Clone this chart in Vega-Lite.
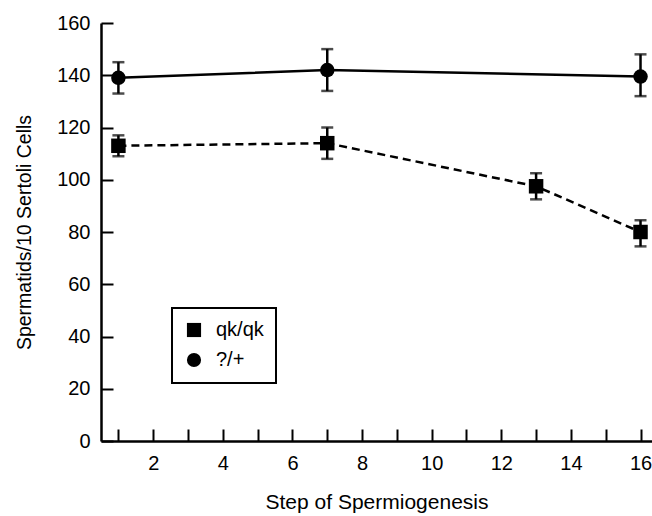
{
  "$schema": "https://vega.github.io/schema/vega-lite/v6.json",
  "width": 551,
  "height": 418,
  "autosize": "none",
  "padding": {"left": 101, "top": 23, "right": 0, "bottom": 75},
  "background": "white",
  "config": {
    "view": {"stroke": null},
    "font": "Liberation Sans",
    "legend": {"strokeColor": "black", "strokeWidth": 2},
    "axis": {
      "domainColor": "black", "domainWidth": 2.5, "tickColor": "black", "tickWidth": 2,
      "labelColor": "black", "titleColor": "black", "labelFont": "Liberation Sans", "titleFont": "Liberation Sans",
      "labelFontSize": 20, "titleFontSize": 20, "titleFontWeight": "normal", "grid": false
    }
  },
  "data": {"values": [
    {"step": 1, "group": "?/+", "mean": 139, "lo": 133, "hi": 145},
    {"step": 7, "group": "?/+", "mean": 142, "lo": 134, "hi": 150},
    {"step": 16, "group": "?/+", "mean": 139.5, "lo": 132, "hi": 148},
    {"step": 1, "group": "qk/qk", "mean": 113, "lo": 109, "hi": 117},
    {"step": 7, "group": "qk/qk", "mean": 114, "lo": 108, "hi": 120},
    {"step": 13, "group": "qk/qk", "mean": 97.5, "lo": 92.5, "hi": 102.5},
    {"step": 16, "group": "qk/qk", "mean": 80, "lo": 74.5, "hi": 84.5}
  ]},
  "encoding": {
    "x": {"field": "step", "type": "quantitative",
      "scale": {"domain": [0.5, 16.33], "nice": false, "zero": false},
      "axis": {"title": "Step of Spermiogenesis", "values": [1,2,3,4,5,6,7,8,9,10,11,12,13,14,15,16],
        "labelExpr": "datum.value % 2 == 0 ? datum.label : ''", "tickSize": -12, "labelPadding": 24, "titlePadding": 18, "titleFontSize": 21}}
  },
  "layer": [
    {
      "transform": [{"filter": "datum.group == '?/+'"}],
      "mark": {"type": "line", "color": "black", "strokeWidth": 2.5},
      "encoding": {
        "y": {"field": "mean", "type": "quantitative", "title": "Spermatids/10 Sertoli Cells",
          "scale": {"domain": [0, 160], "nice": false},
          "axis": {"title": "Spermatids/10 Sertoli Cells", "values": [0,20,40,60,80,100,120,140,160],
            "tickSize": -12, "labelPadding": 23, "titlePadding": 22, "titleFontSize": 19.5}}
      }
    },
    {
      "transform": [{"filter": "datum.group == 'qk/qk'"}],
      "mark": {"type": "line", "color": "black", "strokeWidth": 2.5, "strokeDash": [8, 5]},
      "encoding": {
        "y": {"field": "mean", "type": "quantitative", "title": "Spermatids/10 Sertoli Cells"}
      }
    },
    {
      "mark": {"type": "errorbar", "color": "black", "thickness": 2.5, "ticks": {"size": 12, "thickness": 2.5}},
      "encoding": {
        "y": {"field": "lo", "type": "quantitative", "title": "Spermatids/10 Sertoli Cells"},
        "y2": {"field": "hi"}
      }
    },
    {
      "mark": {"type": "point", "filled": true, "color": "black", "opacity": 1, "size": 210},
      "encoding": {
        "y": {"field": "mean", "type": "quantitative", "title": "Spermatids/10 Sertoli Cells"},
        "shape": {"field": "group", "type": "nominal",
          "scale": {"domain": ["qk/qk", "?/+"], "range": ["square", "circle"]},
          "legend": {"title": null, "orient": "none", "legendX": 71, "legendY": 285,
            "padding": 12, "fillColor": "white",
            "labelFontSize": 20, "labelFont": "Liberation Sans", "labelColor": "black",
            "symbolSize": 200, "symbolFillColor": "black", "symbolStrokeColor": "black",
            "rowPadding": 8, "labelOffset": 12}}
      }
    }
  ]
}
